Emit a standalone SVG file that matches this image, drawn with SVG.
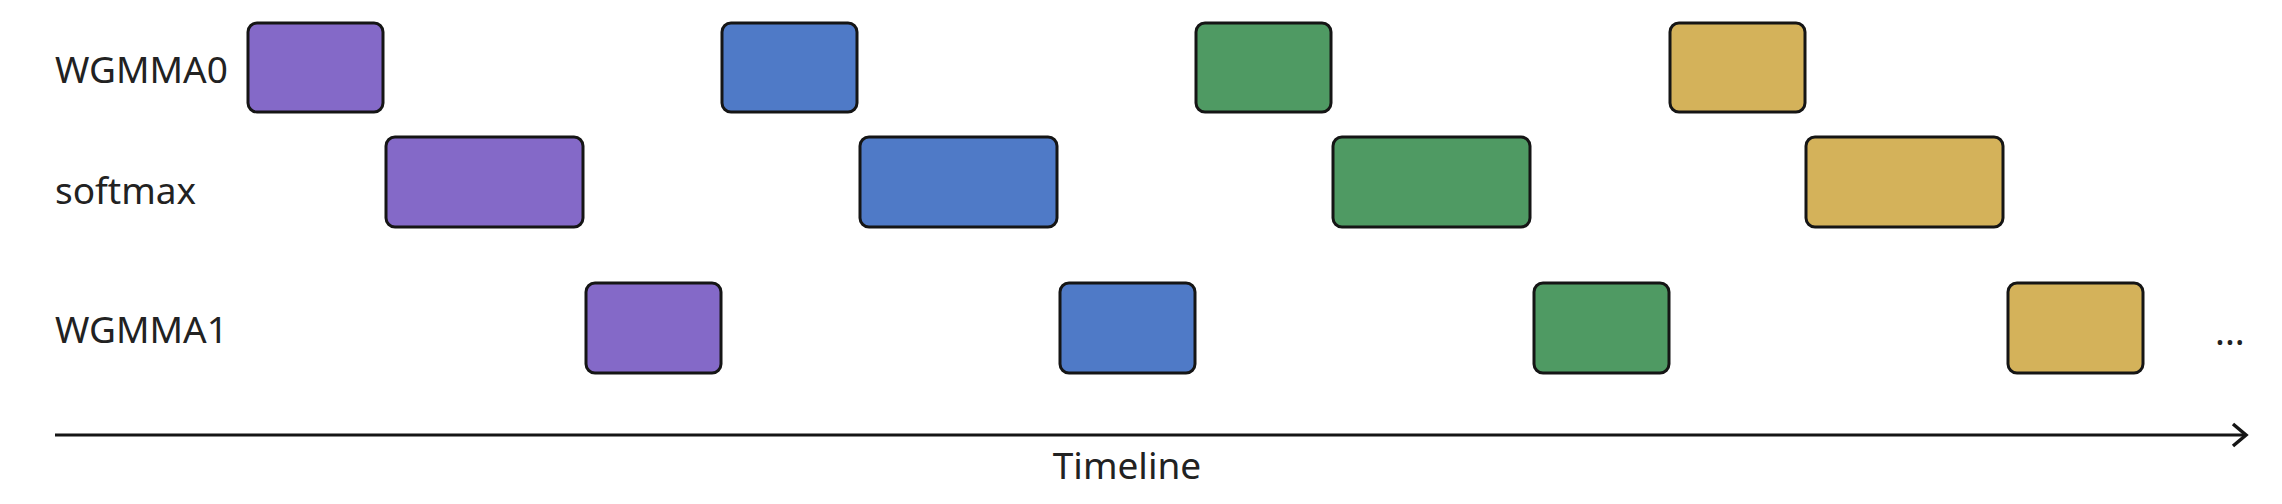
<svg xmlns="http://www.w3.org/2000/svg" width="2282" height="504" viewBox="0 0 2282 504">
<style>
.lbl{font-family:"Noto Sans","Open Sans","Liberation Sans",sans-serif;font-size:37px;fill:#222}
.blk{stroke:#151515;stroke-width:3}
.p{fill:#8469C8}.b{fill:#4F7AC7}.g{fill:#4F9A63}.y{fill:#D4B25A}
</style>
<defs>
<marker id="arr" viewBox="0 0 20 30" refX="17" refY="15" markerWidth="20" markerHeight="30" markerUnits="userSpaceOnUse" orient="auto">
<path d="M4,4 L17,15 L4,26" fill="none" stroke="#151515" stroke-width="3.5"/>
</marker>
</defs>
<rect width="2282" height="504" fill="#fff"/>
<g id="labels">
<text class="lbl" x="55" y="83">WGMMA0</text>
<text class="lbl" x="55" y="204">softmax</text>
<text class="lbl" x="55" y="343">WGMMA1</text>
<text class="lbl" x="2215" y="345">...</text>
</g>
<g id="wgmma0">
<rect id="w0-1" class="blk p" x="248" y="23" width="135" height="89" rx="9"/>
<rect id="w0-2" class="blk b" x="722" y="23" width="135" height="89" rx="9"/>
<rect id="w0-3" class="blk g" x="1196" y="23" width="135" height="89" rx="9"/>
<rect id="w0-4" class="blk y" x="1670" y="23" width="135" height="89" rx="9"/>
</g>
<g id="softmax">
<rect id="sm-1" class="blk p" x="386" y="137" width="197" height="90" rx="9"/>
<rect id="sm-2" class="blk b" x="860" y="137" width="197" height="90" rx="9"/>
<rect id="sm-3" class="blk g" x="1333" y="137" width="197" height="90" rx="9"/>
<rect id="sm-4" class="blk y" x="1806" y="137" width="197" height="90" rx="9"/>
</g>
<g id="wgmma1">
<rect id="w1-1" class="blk p" x="586" y="283" width="135" height="90" rx="9"/>
<rect id="w1-2" class="blk b" x="1060" y="283" width="135" height="90" rx="9"/>
<rect id="w1-3" class="blk g" x="1534" y="283" width="135" height="90" rx="9"/>
<rect id="w1-4" class="blk y" x="2008" y="283" width="135" height="90" rx="9"/>
</g>
<g id="connectors">
<line x1="55" y1="435" x2="2246" y2="435" stroke="#151515" stroke-width="3" marker-end="url(#arr)"/>
</g>
<g id="timeline-label">
<text class="lbl" x="1127" y="479" text-anchor="middle">Timeline</text>
</g>
</svg>
